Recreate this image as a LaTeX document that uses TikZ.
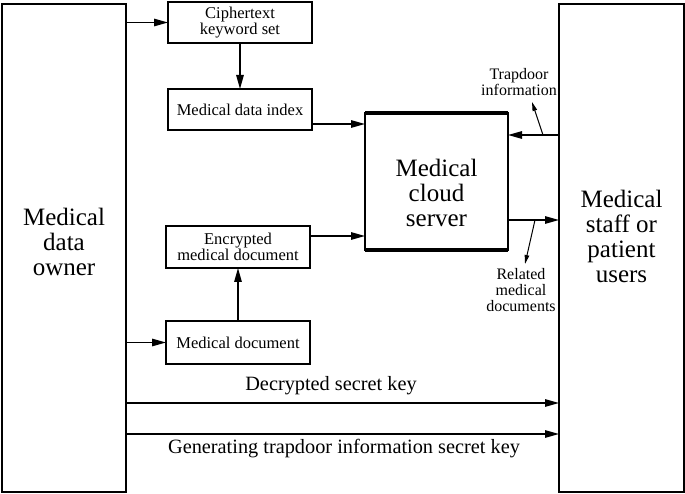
\documentclass[tikz,border=0pt]{standalone}
\usepackage{fontspec}
\setmainfont{Liberation Serif}
\usetikzlibrary{arrows.meta,calc}
\begin{document}
\begin{tikzpicture}[x=1pt,y=-1pt,
  every node/.style={inner sep=0pt, outer sep=0pt},
  frame/.style={draw, line width=1.5pt},
  bigtext/.style={align=center, font=\fontsize{25}{25}\selectfont},
  smallbox/.style={draw, line width=1.3pt, align=center, font=\fontsize{16.5}{16.5}\selectfont},
  lbl/.style={align=center, font=\fontsize{16}{16}\selectfont},
  keylbl/.style={font=\fontsize{20.3}{22}\selectfont},
  arr/.style={line width=1.3pt, -{Triangle[length=14pt,width=7.5pt]}},
  sarr/.style={line width=1pt, -{Triangle[length=9pt,width=4.5pt]}}]
\useasboundingbox (0,0) rectangle (685,494);
% big side boxes
\node[frame, minimum width=124pt, minimum height=488pt] (owner) at (64,248) {};
\node[bigtext] (ownertxt) at (64,242) {Medical\\data\\owner};
\node[frame, minimum width=125pt, minimum height=488pt] (users) at (621.5,248) {};
\node[bigtext] (userstxt) at (621.5,236) {Medical\\staff or\\patient\\users};
% small boxes
\node[smallbox, minimum width=144pt, minimum height=41pt] (cipher) at (240,22.5) {Ciphertext\\keyword set};
\node[smallbox, minimum width=144pt, minimum height=41pt] (index) at (240,109.5) {Medical data index};
\node[smallbox, minimum width=144pt, minimum height=42pt] (enc) at (238,247) {Encrypted\\medical document};
\node[smallbox, minimum width=144pt, minimum height=43pt] (doc) at (238,342.5) {Medical document};
% server
\node[draw, line width=1.3pt, minimum width=143pt, minimum height=137pt] (server) at (436.5,181.5) {};
\node[bigtext] (servertxt) at (436.5,193) {Medical\\cloud\\server};
\draw[line width=4pt] (server.north west) -- (server.north east);
\draw[line width=4pt] (server.south west) -- (server.south east);
% arrows
\draw[arr] (cipher.west -| owner.east) -- (cipher.west);
\draw[arr] (cipher.south) -- (index.north);
\draw[arr] ([yshift=-14.5pt]index.east) -- ([yshift=-14.5pt]index.east -| server.west);
\draw[arr] ([yshift=11pt]enc.east) -- ([yshift=11pt]enc.east -| server.west);
\draw[arr] (doc.north) -- (enc.south);
\draw[arr] (doc.west -| owner.east) -- (doc.west);
\coordinate (tr) at (543,135);
\coordinate (rd) at (535,220);
\draw[arr] (tr -| users.west) -- (tr -| server.east);
\draw[arr] (rd -| server.east) -- (rd -| users.west);
\node[lbl] (trlbl) at (519,82) {Trapdoor\\information};
\node[lbl] (rdlbl) at (521,290) {Related\\medical\\documents};
\draw[sarr] (tr) -- (532,102);
\draw[sarr] (rd) -- (525,264);
% keys
\coordinate (k1) at (126,403);
\coordinate (k2) at (126,434);
\draw[arr] (k1) -- (k1 -| users.west);
\draw[arr] (k2) -- (k2 -| users.west);
\node[keylbl] (k1lbl) at (331,386) {Decrypted secret key};
\node[keylbl] (k2lbl) at (344,449) {Generating trapdoor information secret key};
\end{tikzpicture}
\end{document}
